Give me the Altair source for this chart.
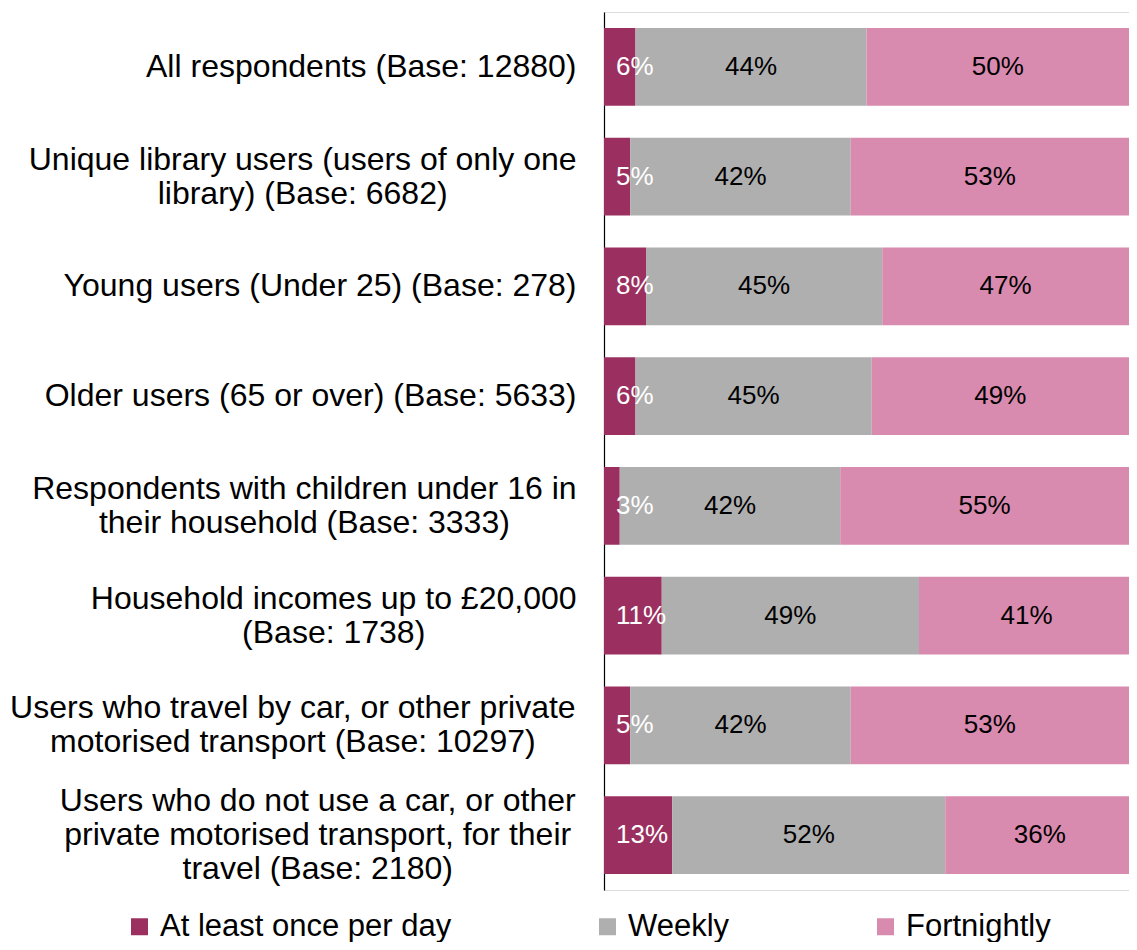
import altair as alt
import pandas as pd

categories = [
    "All respondents (Base: 12880)",
    "Unique library users (users of only one|library) (Base: 6682)",
    "Young users (Under 25) (Base: 278)",
    "Older users (65 or over) (Base: 5633)",
    "Respondents with children under 16 in|their household (Base: 3333)",
    "Household incomes up to £20,000|(Base: 1738)",
    "Users who travel by car, or other private|motorised transport (Base: 10297)",
    "Users who do not use a car, or other|private motorised transport, for their|travel (Base: 2180)",
]
series = ["At least once per day", "Weekly", "Fortnightly"]
daily = [6, 5, 8, 6, 3, 11, 5, 13]
weekly = [44, 42, 45, 45, 42, 49, 42, 52]
fortnightly = [50, 53, 47, 49, 55, 41, 53, 36]
colors = ["#9B3060", "#AFAFAF", "#D98AAF"]

rows = []
for i, cat in enumerate(categories):
    start = 0
    for j, (name, vals) in enumerate(zip(series, [daily, weekly, fortnightly])):
        v = vals[i]
        rows.append({
            "category": cat,
            "series": name,
            "order": j,
            "value": v,
            "start": start,
            "end": start + v,
            "mid": start + v / 2,
            "label": f"{v}%",
        })
        start += v
df = pd.DataFrame(rows)

FONT = "Liberation Sans"
LABEL_SIZE = 32
LINE_H = 34
LABEL_PAD = 28

# Arial / Liberation Sans advance widths (per 1000 em) to centre multi-line labels
_W = {" ": 278, "(": 333, ")": 333, ",": 278, ":": 278, "£": 556, "%": 889,
      "-": 333, ".": 278}
_W.update({d: 556 for d in "0123456789"})
_W.update(dict(zip("abcdefghijklmnopqrstuvwxyz",
                   [556, 556, 500, 556, 556, 278, 556, 556, 222, 222, 500, 222, 833,
                    556, 556, 556, 556, 333, 500, 278, 556, 500, 722, 500, 500, 500])))
_W.update(dict(zip("ABCDEFGHIJKLMNOPQRSTUVWXYZ",
                   [667, 667, 722, 722, 667, 611, 778, 722, 278, 500, 667, 556, 833,
                    722, 778, 667, 778, 722, 667, 611, 722, 667, 944, 667, 667, 611])))


def text_w(s):
    return sum(_W.get(c, 556) for c in s) * LABEL_SIZE / 1000.0


offset_conds = []
pad_conds = []
for cat in categories:
    lines = cat.split("|")
    if len(lines) > 1:
        test = f"datum.value == '{cat}'"
        offset_conds.append({"test": test, "value": -(len(lines) - 1) * LINE_H / 2})
        half = max(text_w(l) for l in lines) / 2
        pad_conds.append({"test": test, "value": LABEL_PAD + half})

multi_test = "indexof(datum.value, '|') >= 0"

y_enc = alt.Y(
    "category:N",
    sort=categories,
    title=None,
    scale=alt.Scale(paddingInner=0.29, paddingOuter=0.145),
    axis=alt.Axis(
        labelExpr="split(datum.label, '|')",
        labelFontSize=LABEL_SIZE,
        labelFont=FONT,
        labelColor="#000000",
        labelLineHeight=LINE_H,
        labelAlign={"condition": {"test": multi_test, "value": "center"}, "value": "right"},
        labelOffset={"condition": offset_conds, "value": 0},
        labelPadding={"condition": pad_conds, "value": LABEL_PAD},
        labelLimit=700,
        ticks=False,
        domainColor="#000000",
        domainWidth=1.2,
        grid=False,
    ),
)
x_scale = alt.Scale(domain=[0, 100], nice=False, zero=True)

bars = alt.Chart(df).mark_bar(clip=True).encode(
    y=y_enc,
    x=alt.X("start:Q", scale=x_scale, axis=None),
    x2="end:Q",
    color=alt.Color(
        "series:N",
        scale=alt.Scale(domain=series, range=colors),
        legend=alt.Legend(
            title=None,
            orient="none",
            legendX=-480,
            legendY=899,
            direction="horizontal",
            columns=3,
            columnPadding=140,
            symbolType="square",
            symbolSize=289,
            symbolStrokeWidth=0,
            symbolOpacity=1,
            labelFontSize=31,
            labelFont=FONT,
            labelColor="#000000",
            labelOffset=5,
            labelLimit=500,
            padding=0,
        ),
    ),
    order="order:Q",
)

text_mid = alt.Chart(df).transform_filter("datum.order > 0").mark_text(
    fontSize=26, font=FONT, color="#000000", align="center", baseline="middle"
).encode(
    y=alt.Y("category:N", sort=categories),
    x=alt.X("mid:Q", scale=x_scale),
    text="label:N",
)

text_first = alt.Chart(df).transform_filter("datum.order == 0").mark_text(
    fontSize=26, font=FONT, color="#FFFFFF", align="left", baseline="middle", dx=12
).encode(
    y=alt.Y("category:N", sort=categories),
    x=alt.X("start:Q", scale=x_scale),
    text="label:N",
)

chart = alt.layer(bars, text_mid, text_first).properties(
    width=525,
    height=878,
    autosize=alt.AutoSizeParams(type="none"),
    padding={"left": 596, "top": 4, "right": 0, "bottom": 52},
).configure_view(stroke=None).configure(background="#FFFFFF")

chart.save("out.html", embed_options={"renderer": "svg", "actions": False})
